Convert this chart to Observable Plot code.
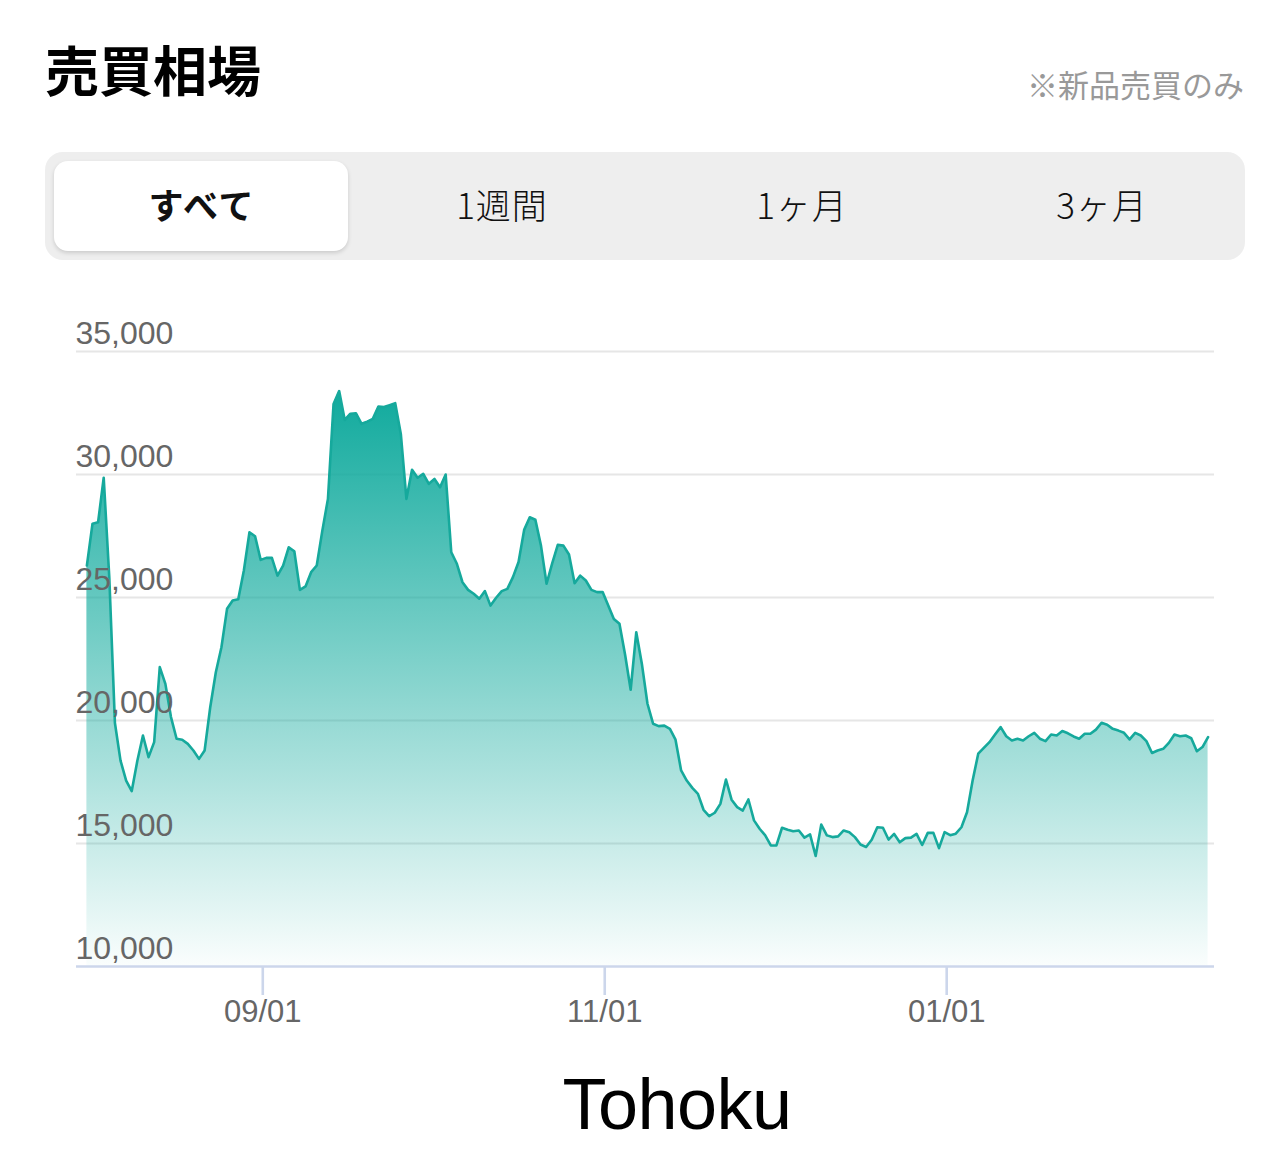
<!DOCTYPE html>
<html>
<head>
<meta charset="utf-8">
<script src="https://cdn.jsdelivr.net/npm/d3@7"></script>
<script src="https://cdn.jsdelivr.net/npm/@observablehq/plot@0.6"></script>
<style>
  html, body { margin: 0; padding: 0; background: #fff; }
  body { width: 1288px; height: 1169px; position: relative; overflow: hidden; font-family: "Noto Sans CJK JP", "Noto Sans", sans-serif; }
  .abs { position: absolute; white-space: nowrap; }
  #title { left: 45px; top: 42px; font-size: 54px; font-weight: 700; line-height: 1; color: #000; }
  #note { right: 44px; top: 68px; font-size: 31px; line-height: 1; color: #999; }
  #tabs { left: 45px; top: 152px; width: 1200px; height: 108px; background: #eeeeee; border-radius: 18px; }
  #sel { left: 54px; top: 161px; width: 294px; height: 90px; background: #fff; border-radius: 14px; box-shadow: 0 2px 4px rgba(0,0,0,0.15); }
  .tab { top: 152px; width: 300px; height: 108px; line-height: 104px; text-align: center; font-size: 35px; letter-spacing: 1px; color: #111; font-weight: 300; }
  #chart { left: 0; top: 300px; }
  #caption { top: 1068px; left: 477px; width: 400px; text-align: center; font-family: "Liberation Sans", Arial, sans-serif; font-size: 72px; letter-spacing: -0.5px; line-height: 1; color: #000; }
</style>
</head>
<body>
<div id="title" class="abs"></div>
<div id="note" class="abs"></div>
<div id="tabs" class="abs"></div>
<div id="sel" class="abs"></div>
<div id="chart" class="abs"></div>
<div id="caption" class="abs"></div>
<script>
// ---- text ----
const titleText = "売買相場";
const noteText = "※新品売買のみ";
const tabLabels = ["すべて", "1週間", "1ヶ月", "3ヶ月"];
const selectedTab = 0;
const captionText = "Tohoku";

// ---- axes ----
const yTicks = [10000, 15000, 20000, 25000, 30000, 35000];
const xTickDates = ["2023-09-01", "2023-11-01", "2024-01-01"];
const xTickFormat = "%m/%d";

// ---- series: daily prices (JST days) starting at startDate ----
const startDate = "2023-08-01";
const prices = [
  26300, 28000, 28060, 29870, 25800, 19900, 18370, 17560, 17130, 18360,
  19390, 18510, 19120, 22170, 21490, 20140, 19260, 19220, 19050, 18780,
  18440, 18780, 20540, 21960, 22980, 24540, 24880, 24930, 26100, 27650,
  27490, 26530, 26610, 26610, 25890, 26300, 27040, 26880, 25310, 25450,
  26030, 26300, 27720, 29010, 32870, 33390, 32220, 32470, 32490, 32060,
  32150, 32260, 32760, 32740, 32820, 32900, 31650, 29010, 30190, 29870,
  30030, 29620, 29820, 29480, 30000, 26840, 26370, 25620, 25310, 25150,
  24950, 25260, 24670, 24990, 25260, 25350, 25830, 26440, 27750, 28260,
  28160, 27110, 25560, 26390, 27140, 27110, 26750, 25580, 25890, 25690,
  25310, 25220, 25220, 24670, 24130, 23930, 22680, 21250, 23590, 22300,
  20680, 19870, 19770, 19790, 19660, 19220, 17970, 17560, 17260, 17020,
  16370, 16110, 16250, 16610, 17600, 16780, 16480, 16340, 16790, 15940,
  15600, 15330, 14920, 14920, 15640, 15560, 15500, 15530, 15240, 15370,
  14490, 15770, 15330, 15260, 15290, 15530, 15460, 15260, 14960, 14860,
  15150, 15660, 15640, 15160, 15390, 15050, 15220, 15240, 15390, 14940,
  15430, 15430, 14810, 15460, 15340, 15400, 15660, 16270, 17560, 18650,
  18890, 19120, 19430, 19730, 19360, 19190, 19260, 19190, 19360, 19500,
  19260, 19160, 19430, 19390, 19570, 19480, 19350, 19260, 19460, 19460,
  19630, 19910, 19830, 19660, 19590, 19500, 19230, 19500, 19390, 19160,
  18680, 18780, 18850, 19090, 19430, 19360, 19390, 19280, 18750, 18920,
  19320
];

// ---- header ----
document.getElementById("title").textContent = titleText;
document.getElementById("note").textContent = noteText;
tabLabels.forEach((t, i) => {
  const d = document.createElement("div");
  d.className = "abs tab";
  d.style.left = (52 + i * 300) + "px";
  if (i === selectedTab) { d.style.fontWeight = "700"; d.style.letterSpacing = "2px"; }
  d.textContent = t;
  document.body.appendChild(d);
});
document.getElementById("caption").textContent = captionText;

// ---- chart ----
const start = d3.isoParse(startDate + "T00:00:00+09:00");
const data = prices.map((price, i) => ({date: d3.utcDay.offset(start, i), price}));
const xTicks = xTickDates.map(s => d3.isoParse(s + "T00:00:00Z"));
const xDomain = [d3.isoParse("2023-07-29T18:30:00Z"), d3.isoParse("2024-02-17T18:30:00Z")];

const chart = Plot.plot({
  width: 1288,
  height: 760,
  marginLeft: 76,
  marginRight: 74,
  marginTop: 51,
  marginBottom: 94,
  x: {type: "utc", domain: xDomain},
  y: {domain: [yTicks[0], yTicks[yTicks.length - 1]]},
  style: {fontFamily: "'Liberation Sans', Arial, sans-serif", background: "transparent", color: "#666", overflow: "visible"},
  marks: [
    Plot.gridY(yTicks.slice(1), {stroke: "#e6e6e6", strokeOpacity: 1, strokeWidth: 2}),
    Plot.areaY(data, {x: "date", y: "price", fill: "url(#areaGrad)", clip: true}),
    Plot.lineY(data, {x: "date", y: "price", stroke: "#16a99c", strokeWidth: 2.6}),
    Plot.ruleY([yTicks[0]], {stroke: "#ccd6eb", strokeWidth: 2.6}),
    Plot.axisX(xTicks, {tickSize: 29, tickPadding: 4, tickFormat: xTickFormat, stroke: "#ccd6eb", strokeWidth: 2.6, strokeOpacity: 1, fill: "#666", fontSize: 31, label: null}),
    Plot.axisY(yTicks, {anchor: "left", tickSize: 0, tickPadding: 0, textAnchor: "start", dx: -1, dy: -18, fill: "#666", fontSize: 32, tickFormat: d3.format(","), label: null})
  ]
});

// gradient for the area, placed through the y scale
const ys = chart.scale("y");
const NS = "http://www.w3.org/2000/svg";
const defs = document.createElementNS(NS, "defs");
const lg = document.createElementNS(NS, "linearGradient");
lg.setAttribute("id", "areaGrad");
lg.setAttribute("gradientUnits", "userSpaceOnUse");
lg.setAttribute("x1", 0); lg.setAttribute("x2", 0);
lg.setAttribute("y1", ys.apply(d3.max(prices)));
lg.setAttribute("y2", ys.apply(yTicks[0]));
[[0, 1], [1, 0.02]].forEach(([o, op]) => {
  const s = document.createElementNS(NS, "stop");
  s.setAttribute("offset", o);
  s.setAttribute("stop-color", "#10aa9d");
  s.setAttribute("stop-opacity", op);
  lg.appendChild(s);
});
defs.appendChild(lg);
chart.insertBefore(defs, chart.firstChild);

document.getElementById("chart").appendChild(chart);
</script>
</body>
</html>
